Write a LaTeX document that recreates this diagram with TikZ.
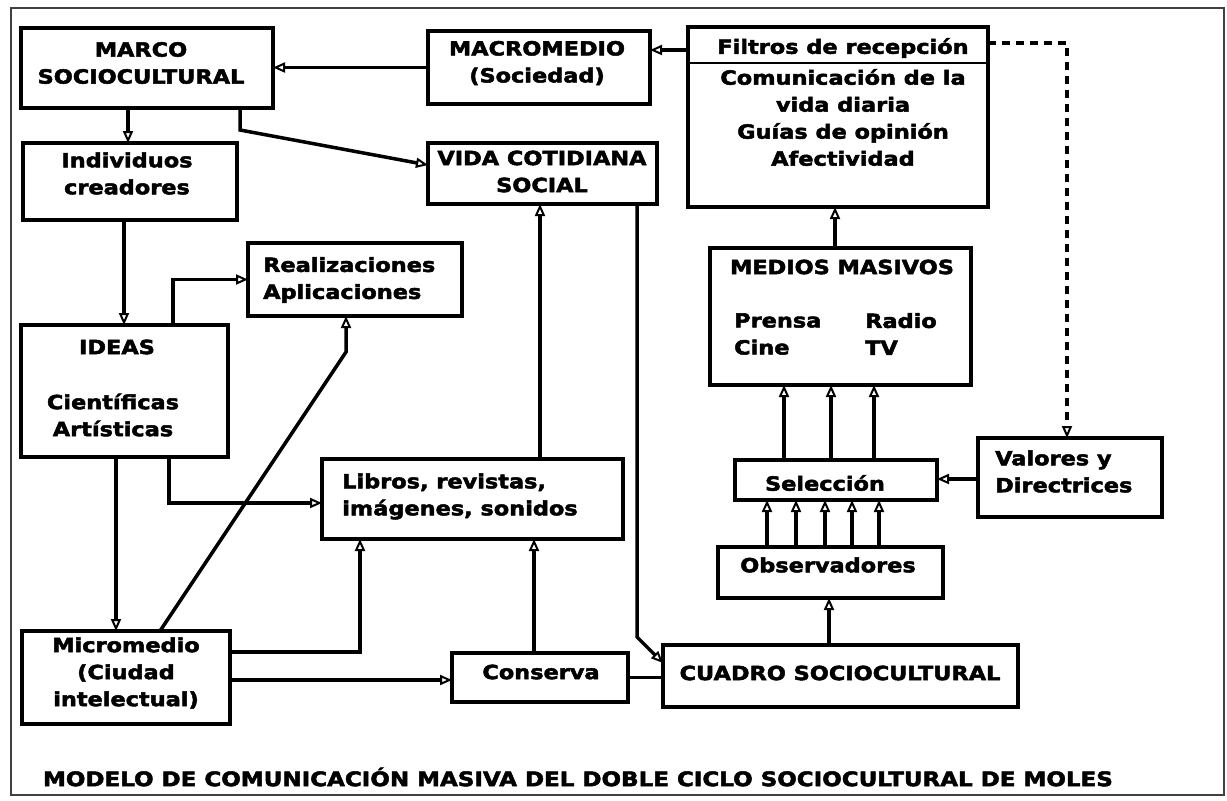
\documentclass[tikz,border=0pt]{standalone}
\usepackage{fontspec}
\setmainfont{DejaVu Sans}[FakeStretch=1.17]
\newfontfamily\heavyfont{DejaVu Sans Bold}[FakeStretch=1.15,FakeBold=2.5]
\usetikzlibrary{arrows.meta,calc}

\begin{document}
\begin{tikzpicture}[x=1pt,y=-1pt,
  box/.style={draw, line width=3.5pt, outer sep=0pt, inner sep=0pt},
  lbl/.style={font=\heavyfont\fontsize{19.5}{27}\selectfont, inner sep=0pt, align=center},
  lbll/.style={lbl, align=left, anchor=west},
  link/.style={line width=3.5pt},
  arr/.style={link, -{Triangle[open,length=12pt,width=10pt,line width=2pt]}},
  dashlink/.style={dash pattern=on 8pt off 6pt},
]
\useasboundingbox (0,0) rectangle (1227,801);

% outer frame
\node[draw=black!75, line width=2pt, minimum width=1213pt, minimum height=787pt, inner sep=0pt] (frame) at (617.5,401.5) {};

% boxes
\node[box, minimum width=252pt, minimum height=80pt]  (marco)    at (147,68) {};
\node[box, minimum width=214pt, minimum height=77pt]  (indiv)    at (130,181.5) {};
\node[box, minimum width=222pt, minimum height=73pt]  (macro)    at (539,67.5) {};
\node[box, minimum width=300pt, minimum height=180pt] (filtros)  at (838,117) {};
\node[box, minimum width=229pt, minimum height=61pt]  (vida)     at (542.5,173.5) {};
\node[box, minimum width=214pt, minimum height=73pt]  (realiz)   at (355,279.5) {};
\node[box, minimum width=207pt, minimum height=132pt] (ideas)    at (124.5,391) {};
\node[box, minimum width=301pt, minimum height=80pt]  (libros)   at (472.5,499) {};
\node[box, minimum width=208pt, minimum height=93pt]  (micro)    at (126,677.5) {};
\node[box, minimum width=176pt, minimum height=49pt]  (conserva) at (540,677.5) {};
\node[box, minimum width=355pt, minimum height=62pt]  (cuadro)   at (840.5,676) {};
\node[box, minimum width=225pt, minimum height=51pt]  (obs)      at (830.5,572.5) {};
\node[box, minimum width=202pt, minimum height=40pt]  (selec)    at (836,480) {};
\node[box, minimum width=261pt, minimum height=137pt] (medios)   at (840.5,316.5) {};
\node[box, minimum width=184pt, minimum height=79pt]  (valores)  at (1070,477.5) {};

% header rule of the reception filters box
\coordinate (fdl) at ([yshift=-36pt]filtros.north west);
\draw[line width=2.5pt] (fdl) -- (fdl -| filtros.east);

% texts
\node[lbl] (tmarco) at (141,63) {MARCO\\SOCIOCULTURAL};
\node[lbl] (tindiv) at (127,173.5) {Individuos\\creadores};
\node[lbl] (tmacro) at (537,63) {MACROMEDIO\\(Sociedad)};
\node[lbl] (tvida) at (542,171.5) {VIDA COTIDIANA\\SOCIAL};
\node[lbl] (tfilh) at (843,48) {Filtros de recepción};
\node[lbl] (tfilb) at (843,117.5) {Comunicación de la\\vida diaria\\Guías de opinión\\Afectividad};
\node[lbl] (tmedh) at (842,267) {MEDIOS MASIVOS};
\node[lbll] (tmedl) at (734,334) {Prensa\\Cine};
\node[lbll] (tmedr) at (865,334) {Radio\\TV};
\node[lbll] (trealiz) at (263,280) {Realizaciones\\Aplicaciones};
\node[lbl] (tideas) at (117,347) {IDEAS};
\node[lbl] (tideas2) at (113,415) {Científicas\\Artísticas};
\node[lbll] (tlibros) at (342,496.5) {Libros, revistas,\\imágenes, sonidos};
\node[lbl] (tmicro) at (126,673) {Micromedio\\(Ciudad\\intelectual)};
\node[lbl] (tcons) at (541,672) {Conserva};
\node[lbl] (tcuadro) at (840,673) {CUADRO SOCIOCULTURAL};
\node[lbl] (tobs) at (828,565) {Observadores};
\node[lbl] (tselec) at (825,483) {Selección};
\node[lbll] (tval) at (995,471.5) {Valores y\\Directrices};
\node[lbl, font=\heavyfont\fontsize{20}{27}\selectfont] (title) at (578,777) {MODELO DE COMUNICACIÓN MASIVA DEL DOBLE CICLO SOCIOCULTURAL DE MOLES};

% connectors
\draw[arr] (macro.west) -- (macro.west -| marco.east);
\coordinate (fA) at ([yshift=-23pt]filtros.north west);
\draw[arr] (fA) -- (fA -| macro.east);

\coordinate (mA) at ([xshift=-19pt]marco.south);
\draw[arr] (mA) -- (mA |- indiv.north);

\coordinate (mB) at ([xshift=93pt]marco.south);
\coordinate (vA) at ([yshift=8.5pt]vida.west);
\draw[arr] (mB) -- ++(0,22) -- (vA);

\coordinate (iA) at ([xshift=-6pt]indiv.south);
\draw[arr] (iA) -- (iA |- ideas.north);

\coordinate (dA) at ([xshift=48.5pt]ideas.north);
\draw[arr] (dA) |- (realiz.west);

\coordinate (dB) at ([xshift=44.5pt]ideas.south);
\coordinate (lA) at ([yshift=-4pt]libros.west);
\draw[arr] (dB) |- (lA);

\coordinate (dC) at ([xshift=-8.5pt]ideas.south);
\draw[arr] (dC) -- (dC |- micro.north);

\coordinate (mcA) at ([xshift=34pt]micro.north);
\coordinate (rA) at ([xshift=-9pt]realiz.south);
\draw[arr] (mcA) -- ($(rA)+(0,36)$) -- (rA);

\coordinate (mcB) at ([yshift=25.5pt]micro.east);
\coordinate (lB) at ([xshift=-112.5pt]libros.south);
\draw[arr] (mcB) -| (lB);

\coordinate (mcC) at ([yshift=-2.5pt]micro.east);
\draw[arr] (mcC) -- (mcC -| conserva.west);

\coordinate (cA) at ([xshift=-6pt]conserva.north);
\draw[arr] (cA) -- (cA |- libros.south);

\coordinate (lC) at ([xshift=67.5pt]libros.north);
\draw[arr] (lC) -- (lC |- vida.south);

\coordinate (vB) at ([xshift=94.5pt]vida.south);
\coordinate (qA) at ([yshift=13pt]cuadro.west);
\coordinate (vC) at (vB |- qA);
\draw[arr] (vB) -- ($(vC)+(0,-26)$) -- (qA);

\draw[link] (conserva.east) -- (conserva.east -| cuadro.west);

\coordinate (qB) at ([xshift=-11.5pt]cuadro.north);
\draw[arr] (qB) -- (qB |- obs.south);

\foreach \dx in {-63.5,-34.5,-5.5,21.5,48.5}{
  \coordinate (oA) at ([xshift=\dx pt]obs.north);
  \draw[arr] (oA) -- (oA |- selec.south);
}

\foreach \dx in {-52,-5,38}{
  \coordinate (sA) at ([xshift=\dx pt]selec.north);
  \draw[arr] (sA) -- (sA |- medios.south);
}

\coordinate (meA) at ([xshift=-5.5pt]medios.north);
\draw[arr] (meA) -- (meA |- filtros.south);

\coordinate (vlB) at ([yshift=-1.5pt]valores.west);
\draw[arr] (vlB) -- (vlB -| selec.east);

\coordinate (fB) at ([yshift=-16pt]filtros.north east);
\coordinate (vlA) at ([xshift=-3pt]valores.north);
\draw[arr, dashlink] (fB) -| (vlA);

\end{tikzpicture}
\end{document}
